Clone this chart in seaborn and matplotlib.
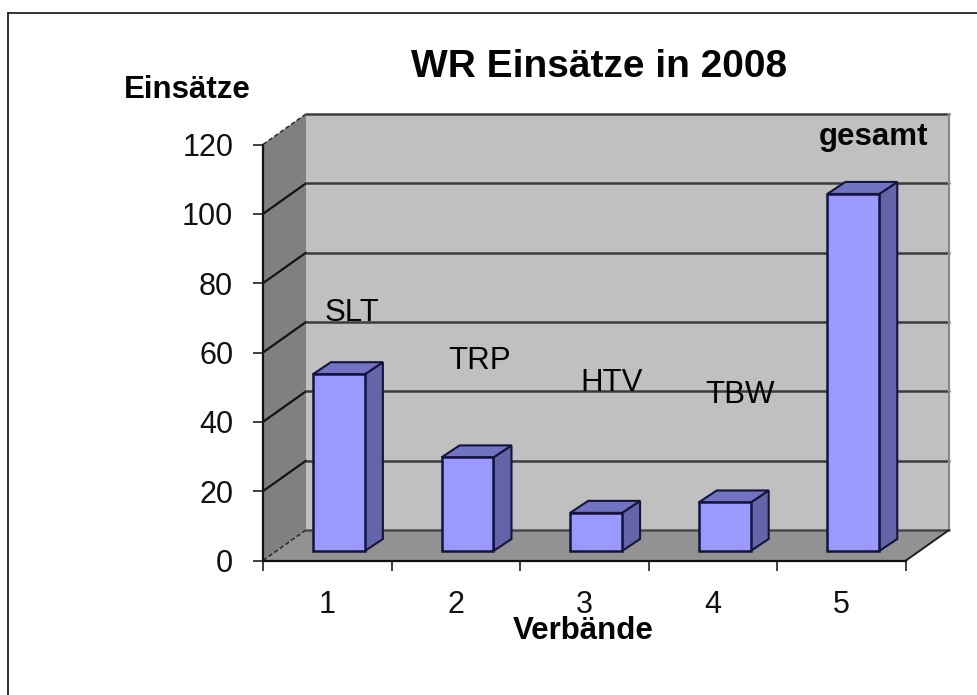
import numpy as np
import pandas as pd
import matplotlib
matplotlib.use('Agg')
import matplotlib.pyplot as plt
from matplotlib.lines import Line2D
from matplotlib.patches import Polygon
import seaborn as sns

# data
categories = ['1', '2', '3', '4', '5']
values = [51, 27, 11, 14, 103]
y_ticks = [0, 20, 40, 60, 80, 100, 120]
bar_names = ['SLT', 'TRP', 'HTV', 'TBW', 'gesamt']

W, H = 977, 695
# size of one category / one unit in pixels
px_x = 643 / 5
px_y = 416 / 120
# depth of the box and of the bars, in data units
depth_x, depth_y = 43 / px_x, 30.5 / px_y
shift_x, shift_y = 11.6 / px_x, 9.5 / px_y
bar_dx, bar_dy = 18 / px_x, 12 / px_y

sns.set_style('white')
plt.rcParams['font.family'] = ['Liberation Sans', 'DejaVu Sans']

fig = plt.figure(figsize=(W / 100, H / 100), dpi=100)
ax = fig.add_axes([263 / W, (H - 560.5) / H, 643 / W, 416 / H])

df = pd.DataFrame({'cat': categories, 'val': values})
sns.barplot(data=df, x='cat', y='val', ax=ax, color='#9999ff', saturation=1,
            width=0.404, edgecolor='#14143c', linewidth=1.8, zorder=5)

ax.set_xlim(-0.5, 4.5)
ax.set_ylim(0, 120)
x0, x1 = ax.get_xlim()
y0, y1 = ax.get_ylim()
ax.patch.set_visible(False)


def face(pts, color, z, ec='none', lw=0):
    ax.add_patch(Polygon(pts, closed=True, facecolor=color, edgecolor=ec,
                         linewidth=lw, zorder=z, clip_on=False))


# walls and floor
face([(x0 + depth_x, y0 + depth_y), (x1 + depth_x, y0 + depth_y),
      (x1 + depth_x, y1 + depth_y), (x0 + depth_x, y1 + depth_y)], '#c0c0c0', 1)
face([(x0, y0), (x0 + depth_x, y0 + depth_y),
      (x0 + depth_x, y1 + depth_y), (x0, y1)], '#808080', 1)
face([(x0, y0), (x1, y0), (x1 + depth_x, y0 + depth_y),
      (x0 + depth_x, y0 + depth_y)], '#929292', 1)

# grid lines running around the box
for t in y_ticks:
    if t in (y_ticks[0], y_ticks[-1]):
        style = dict(color='#2a2a2a', lw=1.1, ls=(0, (3, 1.5)))
    else:
        style = dict(color='#141414', lw=1.6, ls='-')
    ax.plot([x0, x0 + depth_x], [t, t + depth_y], zorder=2, clip_on=False, **style)
    ax.plot([x0 + depth_x, x1 + depth_x], [t + depth_y, t + depth_y], zorder=2,
            clip_on=False, color='#3c3c3c' if t else '#4a4a4a', lw=1.8)
ax.plot([x1 + depth_x, x1 + depth_x], [y0 + depth_y, y1 + depth_y], zorder=2,
        clip_on=False, color='#8a8a8a', lw=1.6)
ax.plot([x1, x1 + depth_x], [y0, y0 + depth_y], zorder=2, clip_on=False,
        color='#202020', lw=1.4)

# move the bars into the box and give them a side and a top
for bar in ax.patches:
    if isinstance(bar, Polygon):
        continue
    bar.set_x(bar.get_x() + shift_x)
    bar.set_y(bar.get_y() + shift_y)
    bar.set_clip_on(False)
    l, r = bar.get_x(), bar.get_x() + bar.get_width()
    b, t = bar.get_y(), bar.get_y() + bar.get_height()
    face([(r, b), (r + bar_dx, b + bar_dy), (r + bar_dx, t + bar_dy), (r, t)],
         '#6464a8', 4, '#14143c', 1.5)
    face([(l, t), (r, t), (r + bar_dx, t + bar_dy), (l + bar_dx, t + bar_dy)],
         '#7373c4', 4, '#14143c', 1.5)

sns.despine(ax=ax, top=True, right=True)
for s in ['left', 'bottom']:
    ax.spines[s].set_color('#101010')
    ax.spines[s].set_linewidth(1.6)
    ax.spines[s].set_zorder(3)

ax.set_xlabel('')
ax.set_ylabel('')
ax.set_yticks(y_ticks)
ax.set_xticks(np.arange(x0, x1 + 0.5), labels=[])
ax.set_xticks(np.arange(len(categories)), labels=categories, minor=True)
ax.tick_params(axis='y', left=True, length=7.5, width=1.2, color='#202020',
               labelsize=22, pad=14, labelcolor='#111111')
ax.tick_params(axis='x', which='major', bottom=True, length=7.5, width=1.2, color='#202020')
ax.tick_params(axis='x', which='minor', bottom=False, length=0, labelsize=22, pad=21.5,
               labelcolor='#111111')
for lbl in ax.get_yticklabels():
    lbl.set_verticalalignment('center_baseline')


def label(text, px, py, size, weight='normal'):
    fig.text(px / W, 1 - py / H, text, ha='center', va='center', fontsize=size,
             fontweight=weight, color='#050505')


label('WR Einsätze in 2008', 599, 67, 28, 'bold')
label('Einsätze', 187, 90, 22.5, 'bold')
label('Verbände', 583, 631, 22.5, 'bold')

# names over the bars
name_px = [352, 480, 612, 740, 873]
name_py = [313, 361, 383, 395, 137]
for name, px, py in zip(bar_names, name_px, name_py):
    if name == 'gesamt':
        label(name, px, py, 22.5, 'bold')
    else:
        label(name, px, py, 22.5)

# frame of the screenshot, only left and top are in the picture
fig.add_artist(Line2D([7.5 / W, 7.5 / W], [0, 1 - 12.5 / H], color='#111111', lw=1.2))
fig.add_artist(Line2D([7.5 / W, 1], [1 - 12.5 / H, 1 - 12.5 / H], color='#111111', lw=1.2))

plt.savefig('out.png', dpi=100)
